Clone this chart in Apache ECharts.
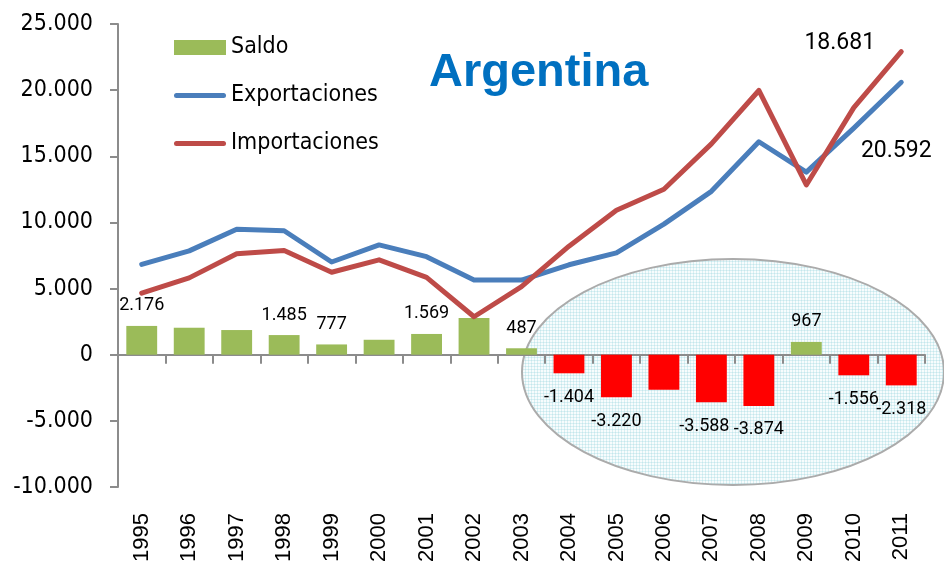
<!DOCTYPE html>
<html>
<head>
<meta charset="utf-8">
<script src="https://cdn.jsdelivr.net/npm/echarts@6/dist/echarts.min.js"></script>
<style>
html,body{margin:0;padding:0;background:#fff;}
#chart{width:944px;height:568px;}
</style>
</head>
<body>
<div id="chart"></div>
<script>
const years = ['1995','1996','1997','1998','1999','2000','2001','2002','2003','2004','2005','2006','2007','2008','2009','2010','2011'];
const saldo = [2176, 2040, 1865, 1485, 777, 1130, 1569, 2770, 487, -1404, -3220, -2640, -3588, -3874, 967, -1556, -2318];
const exportaciones = [6830, 7850, 9490, 9370, 7010, 8300, 7410, 5640, 5640, 6800, 7700, 9870, 12350, 16100, 13800, 17125, 20592];
const importaciones = [4654, 5810, 7625, 7885, 6233, 7170, 5841, 2870, 5153, 8204, 10920, 12510, 15938, 19974, 12833, 18681, 22910];
const saldoLabelShown = [true, false, false, true, true, false, true, false, true, true, true, false, true, true, true, true, true];
const yTicks = [-10000, -5000, 0, 5000, 10000, 15000, 20000, 25000];

function fmt(v) {
  const neg = v < 0;
  let s = String(Math.abs(Math.round(v)));
  s = s.replace(/\B(?=(\d{3})+(?!\d))/g, '.');
  return (neg ? '-' : '') + s;
}

const chart = echarts.init(document.getElementById('chart'), null, {renderer: 'canvas'});

// light cyan grid texture for the ellipse
const pat = document.createElement('canvas');
pat.width = 3; pat.height = 3;
const pc = pat.getContext('2d');
pc.fillStyle = '#f7fcfd'; pc.fillRect(0, 0, 3, 3);
pc.fillStyle = '#d9f0f3'; pc.fillRect(0, 0, 3, 1); pc.fillRect(0, 0, 1, 3);
pc.fillStyle = '#c4e6ec'; pc.fillRect(0, 0, 1, 1);

const GREEN = '#9BBB59', RED_BAR = '#FF0000', BLUE = '#4A7EBB', RED_LINE = '#BE4B48';
const AXIS = '#8C8C8C';
const labelFont = 'Roboto';
const LINE_ICON = 'path://M2.5,0 L49.5,0 A2.5,2.5 0 0 1 49.5,5 L2.5,5 A2.5,2.5 0 0 1 2.5,0 Z';

const saldoData = saldo.map((v, i) => ({
  value: v,
  itemStyle: {color: v < 0 ? RED_BAR : GREEN},
  label: {
    show: saldoLabelShown[i],
    position: v < 0 ? 'bottom' : 'top',
    distance: v < 0 ? 15 : 11,
    offset: years[i] === '2007' ? [-7, 0] : [0, 0]
  }
}));

const endLabel = (off) => ({show: true, position: 'inside', offset: off, formatter: p => fmt(p.value), fontSize: 23, color: '#000', fontFamily: labelFont});
const expData = exportaciones.map((v, i) => (years[i] === '2011' ?
  {value: v, symbol: 'circle', symbolSize: 1, label: endLabel([-5, 69])} : v));
const impData = importaciones.map((v, i) => (years[i] === '2010' ?
  {value: v, symbol: 'circle', symbolSize: 1, label: endLabel([-14, -64])} : v));

const option = {
  backgroundColor: '#ffffff',
  animation: false,
  title: {
    text: 'Argentina',
    left: 424, top: 45,
    textStyle: {color: '#0070C0', fontSize: 47, fontWeight: 'bold', fontFamily: 'Liberation Sans, Arial, sans-serif'}
  },
  legend: {
    orient: 'vertical',
    left: 169, top: 31,
    itemWidth: 52, itemHeight: 15,
    itemGap: 25,
    textStyle: {fontSize: 23, color: '#000', fontFamily: 'DejaVu Sans Condensed, DejaVu Sans, sans-serif', lineHeight: 23},
    data: [
      {name: 'Saldo', icon: 'rect', itemStyle: {color: GREEN}},
      {name: 'Exportaciones', icon: LINE_ICON, itemStyle: {color: BLUE, borderWidth: 0}},
      {name: 'Importaciones', icon: LINE_ICON, itemStyle: {color: RED_LINE, borderWidth: 0}}
    ]
  },
  grid: {left: 118, right: 19, top: 24, bottom: 81, containLabel: false},
  xAxis: [
    {
      type: 'category', data: years,
      axisLine: {onZero: true, lineStyle: {color: AXIS, width: 2}},
      axisTick: {show: true, length: 9, lineStyle: {color: AXIS, width: 2}},
      axisLabel: {show: false},
      splitLine: {show: false}
    },
    {
      type: 'category', data: years, position: 'bottom',
      axisLine: {show: false, onZero: false},
      axisTick: {show: false},
      axisLabel: {show: true, rotate: 90, margin: 26, fontSize: 22, color: '#000', fontFamily: 'Liberation Sans, Arial, sans-serif'},
      splitLine: {show: false}
    }
  ],
  yAxis: {
    type: 'value', min: -10000, max: 25000, interval: 5000,
    axisLine: {show: true, lineStyle: {color: AXIS, width: 2}},
    axisTick: {show: true, length: 8, lineStyle: {color: AXIS, width: 2}},
    axisLabel: {margin: 25, fontSize: 23, color: '#000', fontFamily: 'DejaVu Sans Condensed, DejaVu Sans, sans-serif', formatter: v => fmt(v)},
    splitLine: {show: false}
  },
  graphic: [{
    type: 'ellipse',
    z: -10,
    silent: true,
    shape: {cx: 733, cy: 372, rx: 211, ry: 113},
    style: {fill: {image: pat, repeat: 'repeat'}, stroke: '#ABABAB', lineWidth: 2}
  }],
  series: [
    {
      name: 'Saldo', type: 'bar', xAxisIndex: 0,
      barWidth: '65%',
      itemStyle: {color: GREEN},
      label: {formatter: p => fmt(p.value), fontSize: 18, color: '#000', fontFamily: labelFont},
      data: saldoData,
      z: 2
    },
    {
      name: 'Exportaciones', type: 'line', xAxisIndex: 0,
      symbol: 'none',
      lineStyle: {color: BLUE, width: 5, cap: 'round', join: 'round'},
      itemStyle: {color: BLUE},
      label: {show: false},
      data: expData,
      z: 3
    },
    {
      name: 'Importaciones', type: 'line', xAxisIndex: 0,
      symbol: 'none',
      lineStyle: {color: RED_LINE, width: 5, cap: 'round', join: 'round'},
      itemStyle: {color: RED_LINE},
      label: {show: false},
      data: impData,
      z: 4
    }
  ]
};
chart.setOption(option);
</script>
</body>
</html>
